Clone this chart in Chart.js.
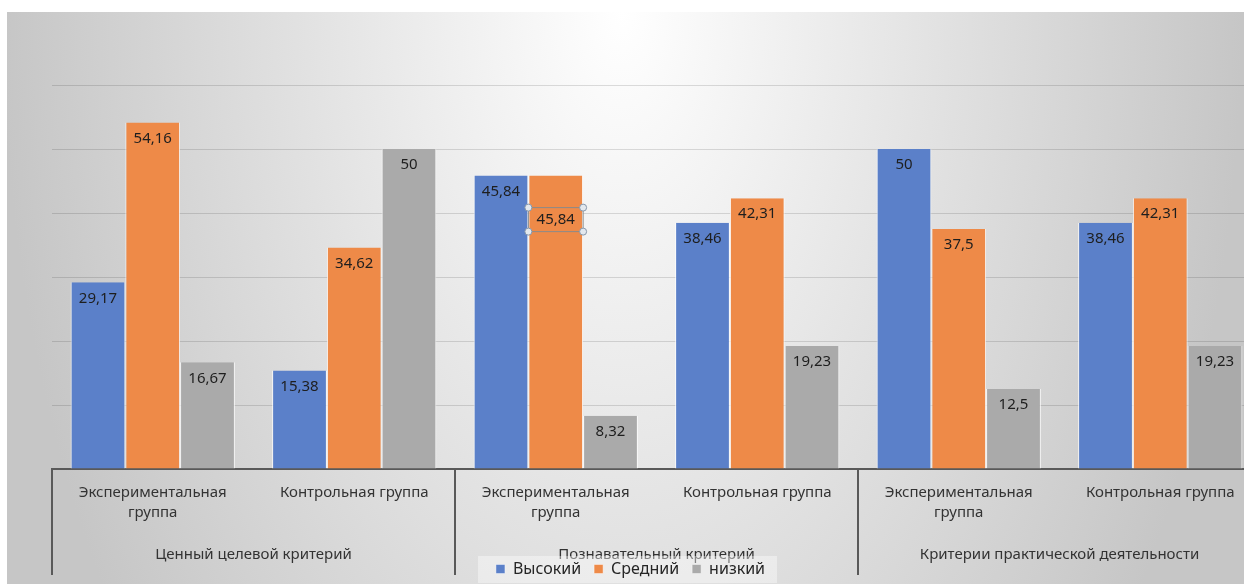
<!DOCTYPE html>
<html>
<head>
<meta charset="utf-8">
<script src="https://cdn.jsdelivr.net/npm/chart.js@4.4.1/dist/chart.umd.min.js"></script>
<style>
  html, body { margin: 0; padding: 0; background: #fff; overflow: hidden; }
  #wrap { position: relative; width: 1261px; height: 584px; }
</style>
</head>
<body>
<div id="wrap"><canvas id="chart"></canvas></div>
<script>
const groups = ["Ценный целевой критерий", "Познавательный критерий", "Критерии практической деятельности"];
const categories = [
    ["Экспериментальная", "группа"], "Контрольная группа",
    ["Экспериментальная", "группа"], "Контрольная группа",
    ["Экспериментальная", "группа"], "Контрольная группа"
];
const seriesNames = ["Высокий", "Средний", "низкий"];
const highValues = [29.17, 15.38, 45.84, 38.46, 50, 38.46];
const midValues = [54.16, 34.62, 45.84, 42.31, 37.5, 42.31];
const lowValues = [16.67, 50, 8.32, 19.23, 12.5, 19.23];
const yMin = 0, yMax = 60, yStep = 10;

const FONT = "'Noto Sans', 'DejaVu Sans', sans-serif";
const colors = ['#5b80c9', '#ee8a48', '#aaaaaa'];
// the label that is shown selected (moved down, with a frame) in the picture
const selected = { dataset: 1, index: 2 };

const backdrop = {
    id: 'backdrop',
    beforeDraw(chart) {
        const ctx = chart.ctx, w = chart.width, h = chart.height;
        ctx.save();
        ctx.fillStyle = '#fff';
        ctx.fillRect(0, 0, w, h);
        ctx.beginPath();
        ctx.rect(7, 12, w - 7, h - 12);
        ctx.clip();
        ctx.translate(622, 12);
        ctx.scale(1, 1.7);
        const g = ctx.createRadialGradient(0, 0, 0, 0, 0, 620);
        g.addColorStop(0, '#ffffff');
        g.addColorStop(1, '#c6c6c6');
        ctx.fillStyle = g;
        ctx.fillRect(-700, -20, 1400, 400);
        ctx.restore();

        // second level of the category axis
        const x = chart.scales.x;
        ctx.save();
        ctx.font = '15px ' + FONT;
        ctx.fillStyle = '#333333';
        ctx.textAlign = 'center';
        ctx.textBaseline = 'middle';
        groups.forEach((name, i) => {
            const cx = (x.getPixelForValue(2 * i) + x.getPixelForValue(2 * i + 1)) / 2;
            ctx.fillText(name, cx, 555);
        });

        // pale box behind the legend
        const boxes = chart.legend ? chart.legend.legendHitBoxes : [];
        if (boxes && boxes.length) {
            const l = boxes[0].left - 18;
            const last = boxes[boxes.length - 1];
            const r = last.left + last.width + 12;
            ctx.fillStyle = 'rgba(255,255,255,0.4)';
            ctx.fillRect(l, 556, r - l, 27);
        }
        ctx.restore();
    }
};

const valueLabels = {
    id: 'valueLabels',
    afterDatasetsDraw(chart) {
        const ctx = chart.ctx;
        ctx.save();
        ctx.font = '15px ' + FONT;
        ctx.textAlign = 'center';
        ctx.textBaseline = 'middle';
        chart.data.datasets.forEach((ds, di) => {
            chart.getDatasetMeta(di).data.forEach((bar, i) => {
                const txt = String(ds.data[i]).replace('.', ',');
                const isSel = di === selected.dataset && i === selected.index;
                const y = bar.y + (isSel ? 44 : 16);
                if (isSel) {
                    const l = bar.x - bar.width / 2, r = bar.x + bar.width / 2;
                    const t = y - 12, b = y + 12;
                    ctx.strokeStyle = '#8a8a8a';
                    ctx.lineWidth = 1;
                    ctx.strokeRect(l, t, r - l, b - t);
                    [[l, t], [r, t], [l, b], [r, b]].forEach(([px, py]) => {
                        ctx.beginPath();
                        ctx.arc(px, py, 3.5, 0, Math.PI * 2);
                        ctx.fillStyle = '#e3e8ee';
                        ctx.fill();
                        ctx.strokeStyle = '#8797ab';
                        ctx.stroke();
                    });
                }
                ctx.fillStyle = '#1e1e1e';
                ctx.fillText(txt, bar.x, y);
            });
        });
        ctx.restore();
    },
    afterDraw(chart) {
        const ctx = chart.ctx, x = chart.scales.x, area = chart.chartArea;
        const edges = [area.left];
        for (let g = 1; g < groups.length; g++) {
            edges.push((x.getPixelForValue(2 * g - 1) + x.getPixelForValue(2 * g)) / 2);
        }
        edges.push(area.right);
        ctx.save();
        ctx.strokeStyle = '#595959';
        ctx.lineWidth = 2;
        edges.forEach(ex => {
            ctx.beginPath();
            ctx.moveTo(ex, area.bottom);
            ctx.lineTo(ex, 575);
            ctx.stroke();
        });
        ctx.restore();
    }
};

const ctx = document.getElementById('chart').getContext('2d');
new Chart(ctx, {
    type: 'bar',
    data: {
        labels: categories,
        datasets: [highValues, midValues, lowValues].map((vals, i) => ({
            label: seriesNames[i],
            data: vals,
            backgroundColor: colors[i],
            borderColor: 'rgba(255,255,255,0.85)',
            borderWidth: { left: 1, right: 1, top: 0, bottom: 0 },
            borderSkipped: false,
            categoryPercentage: 0.815,
            barPercentage: 1
        }))
    },
    plugins: [backdrop, valueLabels],
    options: {
        responsive: true,
        maintainAspectRatio: false,
        animation: false,
        devicePixelRatio: 1,
        layout: { padding: { top: 85, left: 0, right: 0, bottom: -3 } },
        plugins: {
            legend: {
                position: 'bottom',
                labels: {
                    font: { family: FONT, size: 16 },
                    color: '#262626',
                    boxWidth: 9,
                    boxHeight: 9,
                    padding: 13
                }
            },
            tooltip: { enabled: false }
        },
        scales: {
            x: {
                grid: { display: false, drawTicks: false },
                border: { display: true, color: '#595959', width: 2 },
                ticks: {
                    autoSkip: false,
                    maxRotation: 0,
                    padding: 14,
                    color: '#333333',
                    font: { family: FONT, size: 15, lineHeight: 1.33 }
                },
                afterFit(scale) {
                    const lg = scale.chart.legend;
                    const lh = lg ? lg.height : 0;
                    scale.height = scale.chart.height - 469 - lh + 3;
                }
            },
            y: {
                min: yMin,
                max: yMax,
                ticks: { display: false, stepSize: yStep },
                grid: { color: 'rgba(0,0,0,0.13)', drawTicks: false },
                border: { display: false },
                afterFit(scale) { scale.width = 52; }
            }
        }
    }
});
</script>
</body>
</html>
